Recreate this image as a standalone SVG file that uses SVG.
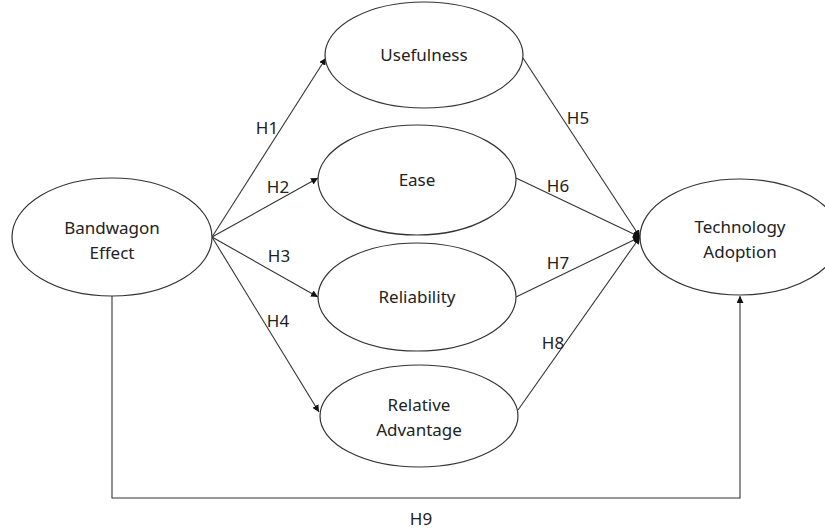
<svg xmlns="http://www.w3.org/2000/svg" width="825" height="529" viewBox="0 0 825 529">
<style>
.n ellipse{fill:#fff;stroke:#333;stroke-width:1.2}
text{font-family:"Noto Sans","Liberation Sans",sans-serif;font-size:17px;fill:#222;text-anchor:middle}
.c line,.c polyline{stroke:#333;stroke-width:1.1;fill:none}
</style>
<defs>
<marker id="a" viewBox="0 0 10 10" refX="10" refY="5" markerWidth="7" markerHeight="7" orient="auto" markerUnits="userSpaceOnUse"><path d="M0,0L10,5L0,10z" fill="#111"/></marker>
</defs>
<rect width="825" height="529" fill="#fff"/>
<g class="c">
<line x1="212" y1="237" x2="326" y2="58" marker-end="url(#a)"/>
<line x1="212" y1="237" x2="318" y2="178" marker-end="url(#a)"/>
<line x1="212" y1="237" x2="318" y2="297" marker-end="url(#a)"/>
<line x1="212" y1="237" x2="319" y2="412" marker-end="url(#a)"/>
<line x1="523" y1="58" x2="640" y2="237" marker-end="url(#a)"/>
<line x1="516" y1="178" x2="640" y2="237" marker-end="url(#a)"/>
<line x1="516" y1="297" x2="640" y2="237" marker-end="url(#a)"/>
<line x1="518" y1="410" x2="640" y2="237" marker-end="url(#a)"/>
<polyline points="112,296 112,498 740,498 740,296" marker-end="url(#a)"/>
</g>
<g class="n" id="bandwagon"><ellipse cx="112" cy="237" rx="100" ry="59"/><text x="112" y="234">Bandwagon</text><text x="112" y="259">Effect</text></g>
<g class="n" id="usefulness"><ellipse cx="424" cy="55" rx="99" ry="53"/><text x="424" y="61">Usefulness</text></g>
<g class="n" id="ease"><ellipse cx="417" cy="180" rx="99" ry="55"/><text x="417" y="186">Ease</text></g>
<g class="n" id="reliability"><ellipse cx="417" cy="297" rx="99" ry="54"/><text x="417" y="303">Reliability</text></g>
<g class="n" id="relative"><ellipse cx="419" cy="416" rx="99" ry="51"/><text x="419" y="411">Relative</text><text x="419" y="436">Advantage</text></g>
<g class="n" id="tech"><ellipse cx="740" cy="237" rx="100" ry="58"/><text x="740" y="233">Technology</text><text x="740" y="258">Adoption</text></g>
<g id="labels">
<text x="267" y="134">H1</text>
<text x="278" y="193">H2</text>
<text x="279" y="262">H3</text>
<text x="278" y="327">H4</text>
<text x="578" y="124">H5</text>
<text x="558" y="192">H6</text>
<text x="558" y="269">H7</text>
<text x="553" y="349">H8</text>
<text x="421" y="525">H9</text>
</g>
</svg>
